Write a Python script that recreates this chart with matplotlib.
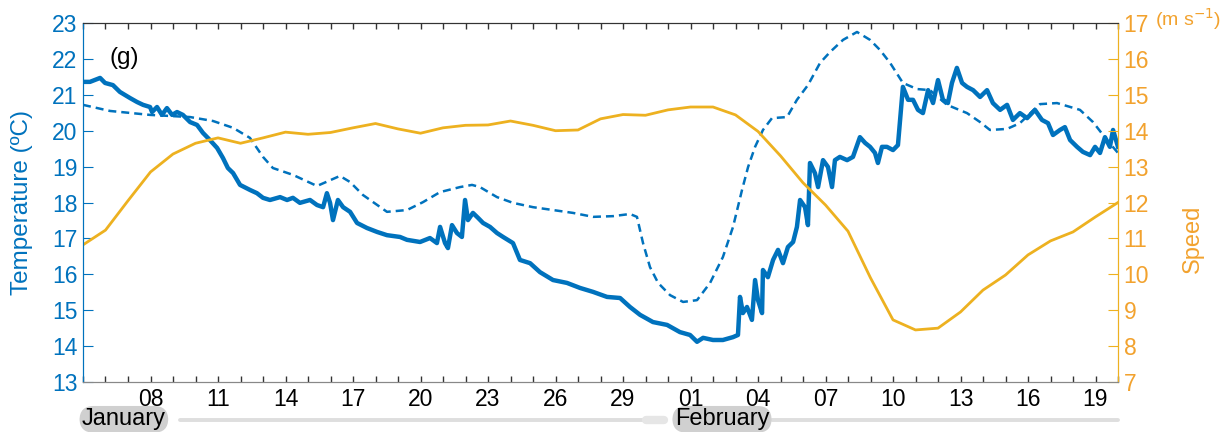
import numpy as np
import matplotlib
matplotlib.use("Agg")
import matplotlib.pyplot as plt

plt.rcParams['font.family'] = ['Liberation Sans', 'DejaVu Sans']

BLUE = "#0072BD"
ORANGE = "#EDB120"
ORANGE_TXT = "#F2A22E"

# days counted from 05 January 00:00
speed_days = list(range(47))
speed = [10.82, 11.23, 12.05, 12.85, 13.35, 13.65, 13.80, 13.65, 13.80, 13.96,
         13.90, 13.95, 14.08, 14.20, 14.05, 13.93, 14.08, 14.15, 14.16, 14.27,
         14.15, 14.00, 14.02, 14.33, 14.45, 14.43, 14.58, 14.66, 14.66, 14.44,
         13.98, 13.30, 12.55, 11.93, 11.20, 9.90, 8.73, 8.45, 8.50, 8.95,
         9.56, 9.98, 10.54, 10.93, 11.18, 11.60, 12.00]

model_days = [0, 1.2, 2.98, 4.76, 5.78, 6.67, 7.42, 8.0, 8.44, 9.33, 10.4, 11.42,
              11.87, 12.44, 13.51, 14.4, 15.11, 15.87, 16.76, 17.29, 17.64, 18.4,
              19.11, 20.0, 20.89, 21.78, 22.67, 23.56, 24.31, 24.62, 24.89, 25.2,
              25.56, 26.09, 26.67, 27.29, 27.87, 28.44, 28.89, 29.29, 29.56, 29.87,
              30.22, 30.62, 31.29, 31.73, 32.22, 32.76, 33.2, 33.78, 34.4, 34.98,
              35.42, 35.87, 36.44, 37.07, 37.64, 38.4, 39.29, 39.87, 40.31, 41.07,
              41.64, 42.53, 43.29, 44.31, 44.89, 45.51, 46.0]
model_temp = [20.72, 20.55, 20.44, 20.38, 20.27, 20.08, 19.80, 19.27, 18.96, 18.77,
              18.46, 18.74, 18.57, 18.21, 17.74, 17.79, 18.01, 18.29, 18.43, 18.49,
              18.43, 18.15, 17.99, 17.87, 17.79, 17.71, 17.60, 17.62, 17.68, 17.60,
              16.87, 16.20, 15.76, 15.42, 15.23, 15.28, 15.76, 16.48, 17.32, 18.35,
              18.99, 19.55, 20.02, 20.35, 20.38, 20.86, 21.27, 21.89, 22.19, 22.53,
              22.75, 22.53, 22.25, 21.89, 21.33, 21.16, 21.13, 20.72, 20.49, 20.24,
              20.02, 20.05, 20.21, 20.74, 20.77, 20.58, 20.24, 19.74, 19.38]

obs_days = [0, 0.31, 0.76, 0.98, 1.33, 1.64, 2.09, 2.40, 2.67, 2.98, 3.07, 3.29,
            3.51, 3.73, 3.96, 4.18, 4.44, 4.76, 5.07, 5.33, 5.64, 5.96, 6.22, 6.44,
            6.67, 6.98, 7.42, 7.73, 8.0, 8.31, 8.76, 9.07, 9.33, 9.64, 10.09, 10.4,
            10.67, 10.84, 10.98, 11.11, 11.33, 11.56, 11.87, 12.18, 12.62, 13.07,
            13.51, 14.09, 14.4, 14.98, 15.42, 15.73, 15.87, 16.09, 16.22, 16.4,
            16.62, 16.84, 16.98, 17.11, 17.33, 17.56, 17.78, 18.09, 18.4, 18.67,
            19.11, 19.42, 19.87, 20.31, 20.89, 21.51, 22.09, 22.67, 23.29, 23.87,
            24.31, 24.76, 25.33, 25.96, 26.53, 26.98, 27.29, 27.56, 28.0, 28.44,
            28.89, 29.11, 29.2, 29.33, 29.51, 29.73, 29.87, 30.0, 30.18, 30.22,
            30.44, 30.67, 30.89, 31.11, 31.33, 31.56, 31.73, 31.87, 32.09, 32.22,
            32.31, 32.53, 32.67, 32.89, 33.11, 33.29, 33.42, 33.64, 33.96, 34.22,
            34.53, 34.76, 34.98, 35.2, 35.33, 35.51, 35.73, 36.0, 36.22, 36.44,
            36.67, 36.89, 37.11, 37.33, 37.56, 37.78, 38.0, 38.22, 38.44, 38.62,
            38.84, 39.07, 39.29, 39.56, 39.87, 40.18, 40.44, 40.76, 41.07, 41.33,
            41.64, 41.96, 42.31, 42.62, 42.89, 43.11, 43.42, 43.64, 43.87, 44.18,
            44.44, 44.76, 44.98, 45.2, 45.42, 45.64, 45.78, 46.0]
obs_temp = [21.36, 21.36, 21.47, 21.33, 21.27, 21.08, 20.91, 20.80, 20.72, 20.66,
            20.52, 20.66, 20.44, 20.63, 20.44, 20.52, 20.44, 20.24, 20.16, 19.94,
            19.74, 19.52, 19.24, 18.96, 18.82, 18.49, 18.35, 18.26, 18.13, 18.07,
            18.15, 18.07, 18.13, 17.99, 18.07, 17.93, 17.87, 18.26, 17.99, 17.51,
            18.07, 17.87, 17.74, 17.43, 17.29, 17.18, 17.09, 17.04, 16.96, 16.90,
            17.01, 16.87, 17.32, 16.87, 16.73, 17.37, 17.15, 17.04, 18.07, 17.51,
            17.71, 17.57, 17.43, 17.32, 17.15, 17.04, 16.87, 16.40, 16.31, 16.06,
            15.84, 15.76, 15.62, 15.51, 15.37, 15.34, 15.09, 14.87, 14.67, 14.59,
            14.39, 14.31, 14.12, 14.23, 14.17, 14.17, 14.25, 14.31, 15.37, 14.92,
            15.09, 14.73, 15.84, 15.28, 14.92, 16.12, 15.92, 16.40, 16.68, 16.31,
            16.76, 16.90, 17.32, 18.07, 17.87, 17.37, 19.10, 18.82, 18.43, 19.18,
            18.99, 18.43, 19.18, 19.27, 19.18, 19.27, 19.82, 19.66, 19.55, 19.38,
            19.10, 19.55, 19.55, 19.46, 19.60, 21.22, 20.86, 20.86, 20.58, 20.49,
            21.13, 20.77, 21.41, 20.86, 20.77, 21.33, 21.75, 21.33, 21.22, 21.13,
            20.94, 21.13, 20.77, 20.58, 20.72, 20.30, 20.49, 20.35, 20.58, 20.30,
            20.21, 19.88, 20.02, 20.10, 19.74, 19.55, 19.41, 19.32, 19.55, 19.38,
            19.82, 19.55, 20.02, 19.55]

tick_days = [3, 6, 9, 12, 15, 18, 21, 24, 27, 30, 33, 36, 39, 42, 45]
tick_labels = ["08", "11", "14", "17", "20", "23", "26", "29",
               "01", "04", "07", "10", "13", "16", "19"]
month_days = [-0.05, 26.3]
month_names = ["January", "February"]


fig = plt.figure(figsize=(12.25, 4.32), dpi=100)
ax = fig.add_axes([83 / 1225, 50 / 432, 1035 / 1225, 359 / 432])
ax2 = ax.twinx()

ax.plot(model_days, model_temp, color=BLUE, lw=1.8, linestyle=(0, (3.2, 2.0)))
ax.plot(obs_days, obs_temp, color=BLUE, lw=3.2)
ax2.plot(speed_days, speed, color=ORANGE, lw=2.0)

ax.set_xlim(0, 46)
ax.set_ylim(13, 23)
ax2.set_ylim(7, 17)
ax.set_yticks(range(13, 24))
ax2.set_yticks(range(7, 18))

ax.set_xticks(tick_days)
ax.set_xticklabels(tick_labels)
ax.set_xticks(range(0, 47), minor=True)
ax.tick_params(axis="x", which="both", direction="in", top=True, length=4,
               width=1, color="#333333", labelsize=16.5, pad=4)
ax.tick_params(axis="y", direction="in", length=7, color=BLUE,
               labelcolor=BLUE, labelsize=16.5, pad=4)
ax2.tick_params(axis="y", direction="in", length=7, color=ORANGE,
                labelcolor=ORANGE_TXT, labelsize=16.5, pad=4)

for a in (ax, ax2):
    a.spines["left"].set_color(BLUE)
    a.spines["right"].set_color(ORANGE)
    a.spines["top"].set_color("#333333")
    a.spines["bottom"].set_color("#888888")

ax.set_ylabel("Temperature (ºC)", color=BLUE, fontsize=17.5)
ax.yaxis.set_label_coords(-0.048, 0.5)
ax2.set_ylabel("Speed", color=ORANGE_TXT, fontsize=17)
ax2.yaxis.set_label_coords(1.062, 0.40)

ax.text(0.026, 0.885, "(g)", transform=ax.transAxes, fontsize=17.5, color="black")
fig.text(1155 / 1225, 1 - 19 / 432, "(m s$^{-1}$)", color=ORANGE_TXT,
         fontsize=14, ha="left", va="center")

# month timeline under the axis
trans = ax.get_xaxis_transform()
ax.plot([4.3, 25.8], [-0.107, -0.107], transform=trans, clip_on=False,
        color="#dedede", lw=2.8, solid_capstyle="round")
ax.plot([25.0, 25.8], [-0.107, -0.107], transform=trans, clip_on=False,
        color="#e6e6e6", lw=6, solid_capstyle="round")
ax.plot([30.6, 46.0], [-0.107, -0.107], transform=trans, clip_on=False,
        color="#dedede", lw=2.8, solid_capstyle="round")
for d, name in zip(month_days, month_names):
    ax.text(d, -0.104, name, transform=trans, fontsize=17, ha="left",
            va="center", clip_on=False,
            bbox=dict(boxstyle="round,pad=0.1,rounding_size=0.6",
                      fc="#d0d0d0", ec="none"))

fig.savefig("out.png", dpi=100, facecolor="white")
